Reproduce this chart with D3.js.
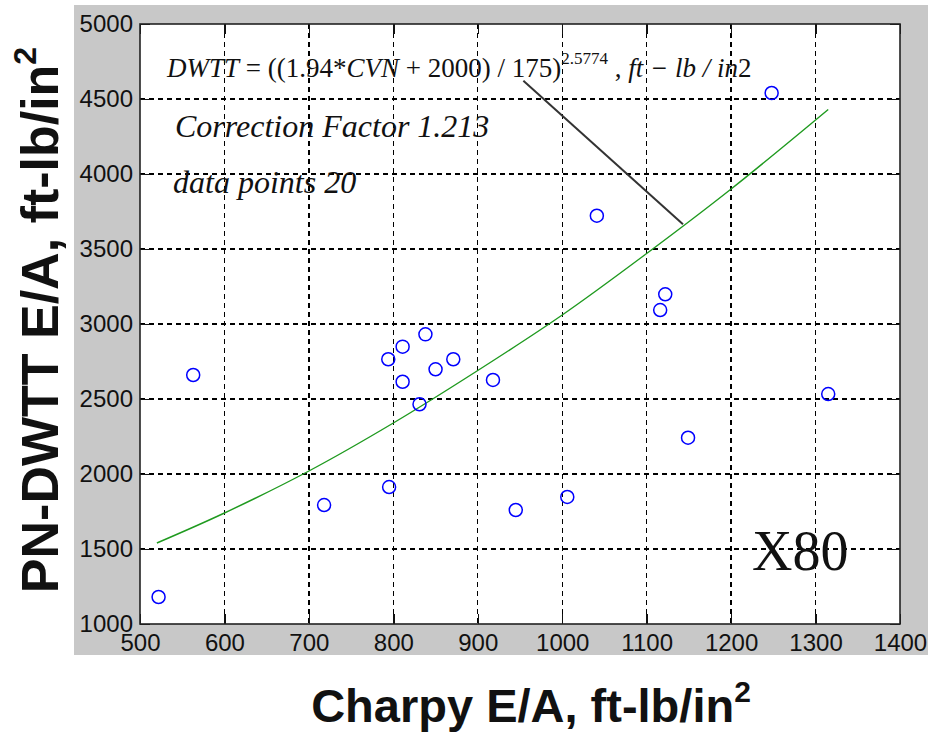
<!DOCTYPE html>
<html>
<head>
<meta charset="utf-8">
<script src="https://cdn.jsdelivr.net/npm/d3@7"></script>
<style>
  body { margin: 0; background: #fff; }
</style>
</head>
<body>
<div id="wrapper"></div>
<script>
var charpy = [522, 563, 718, 795, 794, 811, 811, 838, 831, 850, 871, 918, 945, 1006, 1041, 1116, 1122, 1149, 1248, 1315];
var dwtt = [1180, 2660, 1793, 1913, 2765, 2849, 2615, 2931, 2465, 2698, 2765, 2627, 1760, 1847, 3722, 3093, 3198, 2242, 4540, 2533];

// fitted curve (read at a few points along the green line)
var fitX = [520, 600, 700, 800, 900, 1000, 1100, 1200, 1315];
var fitY = [1540, 1740, 2020, 2340, 2690, 3060, 3470, 3900, 4430];

// leader line from the equation to the curve
var leaderX = [954, 1143];
var leaderY = [4622, 3665];

var xTicks = [500, 600, 700, 800, 900, 1000, 1100, 1200, 1300, 1400];
var yTicks = [1000, 1500, 2000, 2500, 3000, 3500, 4000, 4500, 5000];

var dimensions = {
    width: 928,
    height: 735,
    margin: { top: 24, right: 28, bottom: 111, left: 140 }
};
dimensions.boundedWidth = dimensions.width - dimensions.margin.left - dimensions.margin.right;
dimensions.boundedHeight = dimensions.height - dimensions.margin.top - dimensions.margin.bottom;

var svg = d3.select('#wrapper')
    .append('svg')
    .attr('width', dimensions.width)
    .attr('height', dimensions.height);

// grey figure background
svg.append('rect')
    .attr('x', 74).attr('y', 5)
    .attr('width', 854).attr('height', 650)
    .attr('fill', '#c8c8c8');

var bounds = svg.append('g')
    .attr('transform', 'translate(' + dimensions.margin.left + ',' + dimensions.margin.top + ')');

var xScale = d3.scaleLinear().domain([500, 1400]).range([0, dimensions.boundedWidth]);
var yScale = d3.scaleLinear().domain([1000, 5000]).range([dimensions.boundedHeight, 0]);

bounds.append('rect')
    .attr('width', dimensions.boundedWidth)
    .attr('height', dimensions.boundedHeight)
    .attr('fill', '#fff');

// grid
bounds.append('g').selectAll('line')
    .data(xTicks.slice(1, -1))
    .join('line')
    .attr('x1', xScale).attr('x2', xScale)
    .attr('y1', 0).attr('y2', dimensions.boundedHeight)
    .attr('stroke', '#000').attr('stroke-width', 1.4)
    .attr('stroke-dasharray', '5,4')
    .attr('shape-rendering', 'crispEdges');
bounds.append('g').selectAll('line')
    .data(yTicks.slice(1, -1))
    .join('line')
    .attr('y1', yScale).attr('y2', yScale)
    .attr('x1', 0).attr('x2', dimensions.boundedWidth)
    .attr('stroke', '#000').attr('stroke-width', 1.4)
    .attr('stroke-dasharray', '5,4')
    .attr('shape-rendering', 'crispEdges');

// axes (inward ticks, matlab style)
var tickLen = 10;
var fmt = d3.format('d');
var xAxis = bounds.append('g')
    .attr('transform', 'translate(0,' + dimensions.boundedHeight + ')')
    .call(d3.axisBottom(xScale).tickValues(xTicks).tickFormat(fmt).tickSizeInner(-tickLen).tickSizeOuter(0).tickPadding(10));
var xAxisTop = bounds.append('g')
    .call(d3.axisTop(xScale).tickValues(xTicks).tickSizeInner(-tickLen).tickSizeOuter(0).tickFormat(''));
var yAxis = bounds.append('g')
    .call(d3.axisLeft(yScale).tickValues(yTicks).tickFormat(fmt).tickSizeInner(-tickLen).tickSizeOuter(0).tickPadding(7));
var yAxisRight = bounds.append('g')
    .attr('transform', 'translate(' + dimensions.boundedWidth + ',0)')
    .call(d3.axisRight(yScale).tickValues(yTicks).tickSizeInner(-tickLen).tickSizeOuter(0).tickFormat(''));

[xAxis, xAxisTop, yAxis, yAxisRight].forEach(function (ax) {
    ax.select('.domain').remove();
    ax.selectAll('.tick line').attr('stroke', '#111').attr('stroke-width', 1.4)
        .attr('shape-rendering', 'crispEdges');
    ax.selectAll('text')
        .attr('fill', '#111')
        .style('font-family', '"Liberation Sans Narrow", "Liberation Sans", Arial, sans-serif')
        .style('font-size', '24px');
});

// box
bounds.append('rect')
    .attr('width', dimensions.boundedWidth)
    .attr('height', dimensions.boundedHeight)
    .attr('fill', 'none')
    .attr('stroke', '#222')
    .attr('stroke-width', 1.6);

// fit curve
var fitLine = d3.line()
    .x(function (d) { return xScale(d[0]); })
    .y(function (d) { return yScale(d[1]); })
    .curve(d3.curveCatmullRom);
bounds.append('path')
    .datum(d3.zip(fitX, fitY))
    .attr('d', fitLine)
    .attr('fill', 'none')
    .attr('stroke', '#1f9a1f')
    .attr('stroke-width', 1.4);

// leader
bounds.append('line')
    .attr('x1', xScale(leaderX[0])).attr('y1', yScale(leaderY[0]))
    .attr('x2', xScale(leaderX[1])).attr('y2', yScale(leaderY[1]))
    .attr('stroke', '#333').attr('stroke-width', 2);

// points
bounds.append('g').selectAll('circle')
    .data(d3.zip(charpy, dwtt))
    .join('circle')
    .attr('cx', function (d) { return xScale(d[0]); })
    .attr('cy', function (d) { return yScale(d[1]); })
    .attr('r', 6.5)
    .attr('fill', 'none')
    .attr('stroke', '#0000ff')
    .attr('stroke-width', 1.5);

// annotations
var serif = 'Liberation Serif, Times New Roman, serif';
var eq = svg.append('text')
    .attr('x', 167).attr('y', 77)
    .style('font-family', serif)
    .style('font-size', '27px')
    .attr('fill', '#111');
eq.append('tspan').style('font-style', 'italic').text('DWTT');
eq.append('tspan').text(' = ((1.94');
eq.append('tspan').text('*');
eq.append('tspan').style('font-style', 'italic').text('CVN');
eq.append('tspan').text(' + 2000) / 175)');
eq.append('tspan').attr('dy', -13).style('font-size', '17px').text('2.5774');
eq.append('tspan').attr('dy', 13).text(' , ');
eq.append('tspan').style('font-style', 'italic').text('ft \u2212 lb / in');
eq.append('tspan').text('2');

svg.append('text')
    .attr('x', 175).attr('y', 137)
    .style('font-family', serif).style('font-style', 'italic').style('font-size', '32px')
    .attr('fill', '#111')
    .text('Correction Factor 1.213');
svg.append('text')
    .attr('x', 173).attr('y', 193)
    .style('font-family', serif).style('font-style', 'italic').style('font-size', '32px')
    .attr('fill', '#111')
    .text('data points 20');
svg.append('text')
    .attr('x', 752).attr('y', 570)
    .style('font-family', serif).style('font-size', '56px')
    .attr('fill', '#111')
    .text('X80');

// axis titles
var xTitle = svg.append('text')
    .attr('x', 531).attr('y', 722)
    .attr('text-anchor', 'middle')
    .style('font-family', 'Liberation Sans, Arial, sans-serif')
    .style('font-weight', 'bold').style('font-size', '47px')
    .attr('fill', '#111');
xTitle.append('tspan').text('Charpy E/A, ft-lb/in');
xTitle.append('tspan').attr('dy', -20).style('font-size', '30px').text('2');

var yTitle = svg.append('text')
    .attr('transform', 'translate(58,320) rotate(-90)')
    .attr('text-anchor', 'middle')
    .style('font-family', 'Liberation Sans, Arial, sans-serif')
    .style('font-weight', 'bold').style('font-size', '52px')
    .attr('fill', '#111');
yTitle.append('tspan').text('PN-DWTT E/A, ft-lb/in');
yTitle.append('tspan').attr('dy', -22).style('font-size', '32px').text('2');
</script>
</body>
</html>
